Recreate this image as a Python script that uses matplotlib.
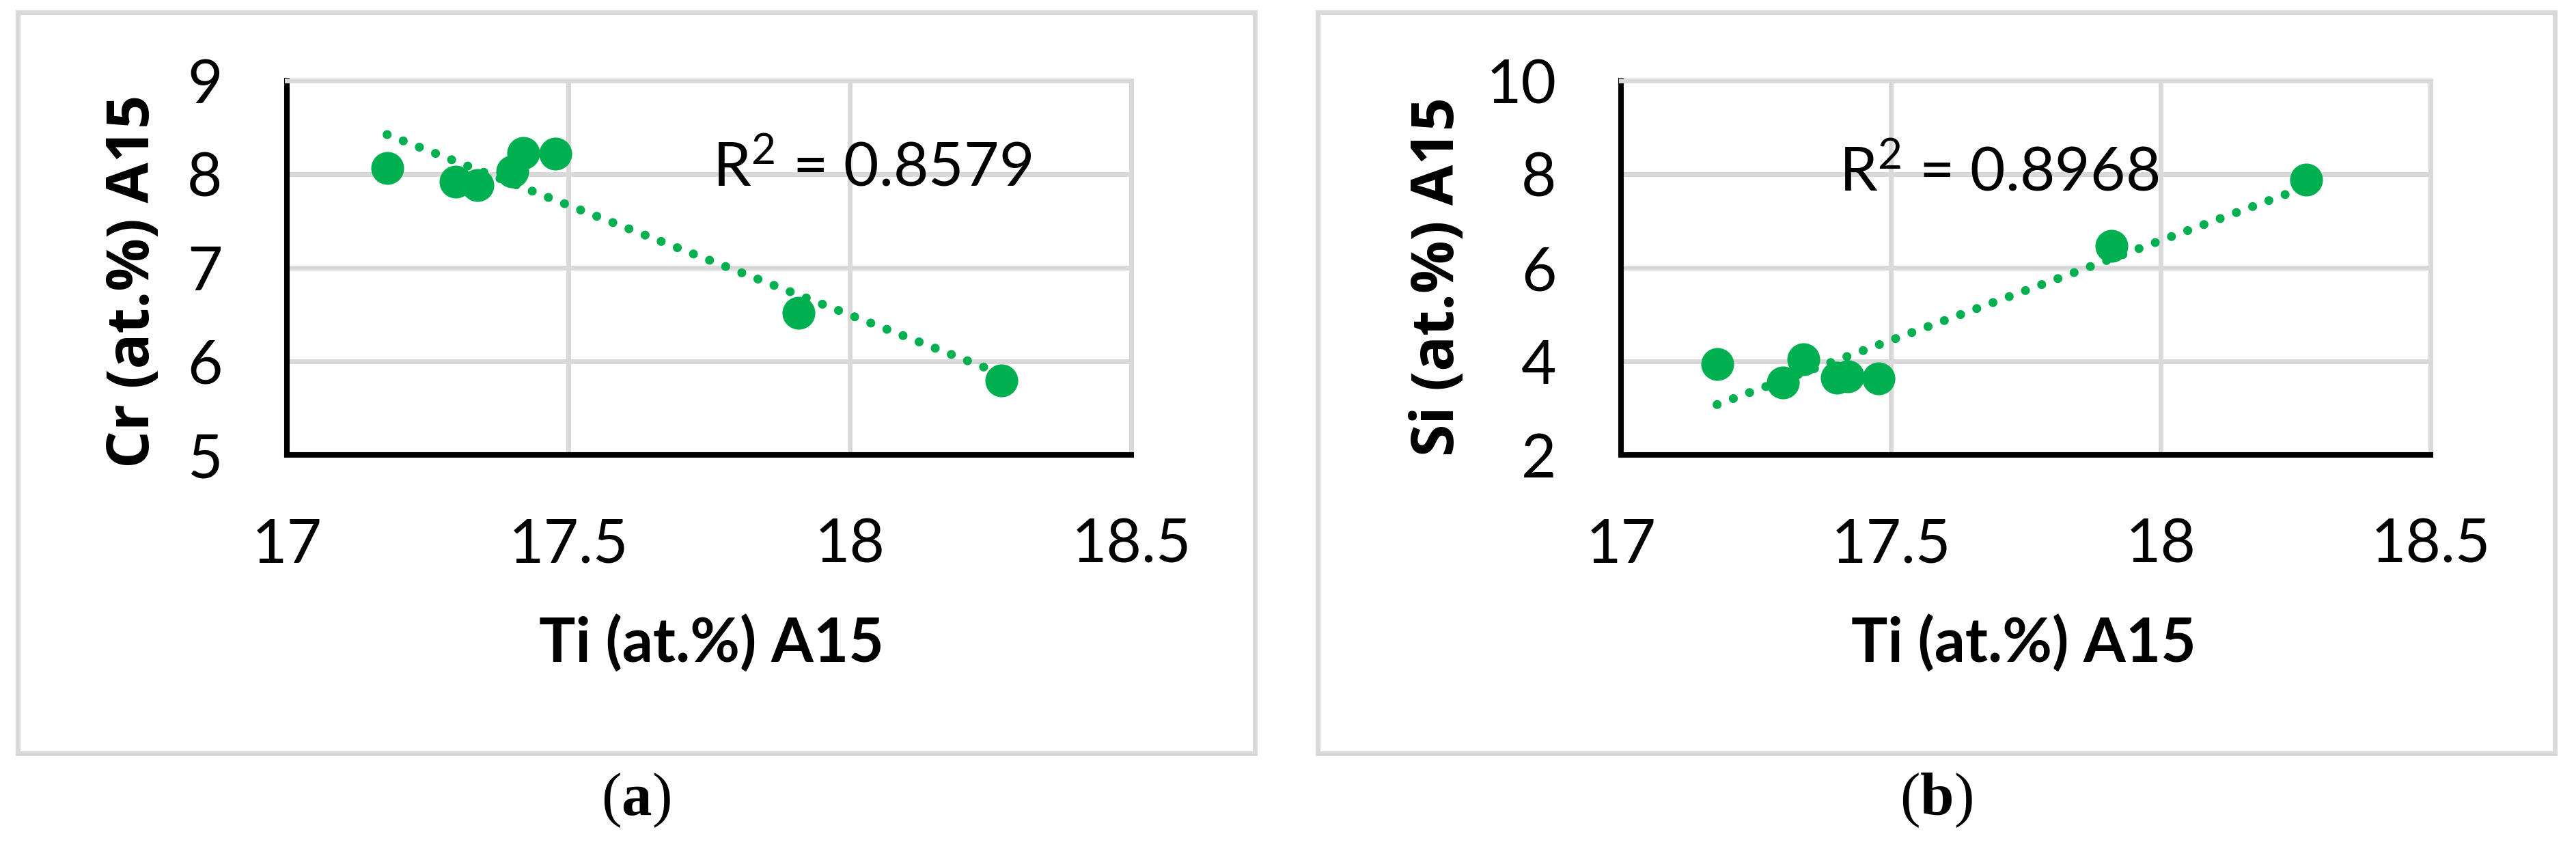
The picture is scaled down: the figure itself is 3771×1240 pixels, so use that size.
import numpy as np
import matplotlib
matplotlib.use('Agg')
import matplotlib.pyplot as plt
from matplotlib.patches import Rectangle

# ---------------- data ----------------
ti = [17.178, 17.30, 17.338, 17.40, 17.42, 17.477, 17.909, 18.27]
cr = [8.068, 7.92, 7.885, 8.03, 8.226, 8.22, 6.518, 5.796]
si = [3.94, 3.55, 4.04, 3.65, 3.68, 3.63, 6.47, 7.88]
x_ticks = [17, 17.5, 18, 18.5]
x_ticklabels = ['17', '17.5', '18', '18.5']
cr_ticks = [5, 6, 7, 8, 9]
si_ticks = [2, 4, 6, 8, 10]
r2_values = ['0.8579', '0.8968']
x_label = 'Ti (at.%) A15'
y_labels = ['Cr (at.%) A15', 'Si (at.%) A15']
captions = ['a', 'b']

GREEN = '#00B050'
GRID = '#D9D9D9'
W, H, DPI = 3771, 1240, 200

plt.rcParams.update({
    'font.family': ['Lato', 'DejaVu Sans'],
    'mathtext.fontset': 'custom',
    'mathtext.rm': 'Lato',
    'mathtext.it': 'Lato:italic',
    'mathtext.bf': 'Liberation Serif:bold',
})

fig = plt.figure(figsize=(W / DPI, H / DPI), dpi=DPI)
fig.patch.set_facecolor('white')


def rect(x0, y0, x1, y1):
    return [x0 / W, 1 - y1 / H, (x1 - x0) / W, (y1 - y0) / H]


panels = [
    dict(ax=rect(420, 118, 1656, 666), y=cr, yticks=cr_ticks, ylim=(5, 9),
         frame=(25.5, 17.5, 1836.5, 1102.5), ylab=(196, 412), xlab=(1041, 970),
         cap=(931, 1193), r2pos=(18.04, 7.876)),
    dict(ax=rect(2373, 118, 3558, 666), y=si, yticks=si_ticks, ylim=(2, 10),
         frame=(1928.5, 17.5, 3739.5, 1102.5), ylab=(2105, 405), xlab=(2962, 970),
         cap=(2834, 1193), r2pos=(17.70, 7.66)),
]

for i, p in enumerate(panels):
    # outer frame
    x0, y0, x1, y1 = p['frame']
    fig.add_artist(Rectangle((x0 / W, 1 - y1 / H), (x1 - x0) / W, (y1 - y0) / H,
                             transform=fig.transFigure, fill=False,
                             edgecolor=GRID, linewidth=2.5))
    ax = fig.add_axes(p['ax'])
    yv = p['y']
    ax.scatter(ti, yv, s=300, color=GREEN, linewidths=0, zorder=3)
    coef = np.polyfit(ti, yv, 1)
    xs = np.array([min(ti), max(ti)])
    ax.plot(xs, np.polyval(coef, xs), color=GREEN, lw=4.7,
            linestyle=(0, (0.01, 1.93)), dash_capstyle='round', zorder=4)

    ax.set_xlim(17, 18.5)
    ax.set_ylim(*p['ylim'])
    ax.set_xticks(x_ticks, x_ticklabels)
    ax.set_yticks(p['yticks'], [str(v) for v in p['yticks']])
    ax.tick_params(axis='both', length=0, labelsize=32)
    ax.tick_params(axis='x', pad=33)
    ax.tick_params(axis='y', pad=34)
    ax.grid(True, color=GRID, linewidth=2.5)
    ax.set_axisbelow(True)
    for s in ['left', 'bottom']:
        ax.spines[s].set_color('black')
        ax.spines[s].set_linewidth(2.9)
    for s in ['top', 'right']:
        ax.spines[s].set_color(GRID)
        ax.spines[s].set_linewidth(2.5)

    ax.text(p['r2pos'][0], p['r2pos'][1], 'R$^{2}$ = ' + r2_values[i],
            ha='center', va='baseline', fontsize=32, color='black', zorder=5)

    # axis titles
    fig.text(p['ylab'][0] / W, 1 - p['ylab'][1] / H, y_labels[i],
             rotation=90, ha='center', va='center', fontsize=31,
             fontweight='bold', family=['Open Sans', 'DejaVu Sans'])
    fig.text(p['xlab'][0] / W, 1 - p['xlab'][1] / H, x_label,
             ha='center', va='baseline', fontsize=32, fontweight='bold',
             family=['Lato', 'DejaVu Sans'])
    # caption
    fig.text(p['cap'][0] / W, 1 - p['cap'][1] / H,
             '($\\mathbf{' + captions[i] + '}$)',
             ha='center', va='baseline', fontsize=32,
             family=['Liberation Serif', 'DejaVu Serif'])

fig.savefig('out.png', dpi=DPI, facecolor='white')
